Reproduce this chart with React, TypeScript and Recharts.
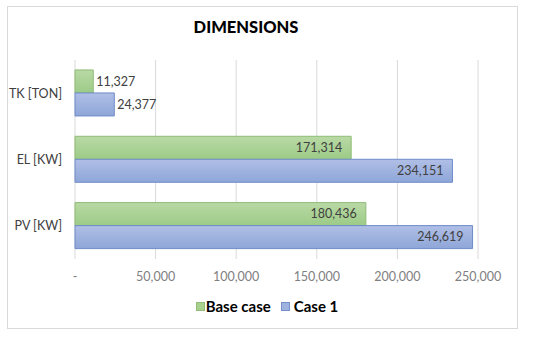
import { BarChart, Bar, XAxis, YAxis, CartesianGrid, LabelList } from 'recharts';

const categories = ['TK [TON]', 'EL  [KW]', 'PV [KW]'];
const baseCase = [11327, 171314, 180436];
const case1 = [24377, 234151, 246619];
const xTicks = [0, 50000, 100000, 150000, 200000, 250000];

const data = categories.map((name, i) => ({ name, base: baseCase[i], case1: case1[i] }));

const FONT = 'Lato, "Open Sans", sans-serif';

const fmt = (v: number) => (v === 0 ? '-' : v.toLocaleString('en-US'));

// put the value inside the bar end when it fits, otherwise just past it
const ValueLabel = (props: any) => {
  const { x, y, width, height, value } = props;
  const text = fmt(value);
  const textW = text.length * 6.3;
  const inside = width > textW + 16;
  return (
    <text
      x={inside ? x + width - 9 : x + width + 3}
      y={y + height / 2}
      dy="0.35em"
      textAnchor={inside ? 'end' : 'start'}
      fontSize={12.5}
      fontFamily={FONT}
      fill="#404040"
    >
      {text}
    </text>
  );
};

export default function App() {
  return (
    <div style={{ position: 'fixed', left: 0, top: 0, width: 550, height: 337, background: '#fff', fontFamily: FONT }}>
      <div style={{ position: 'absolute', left: 7, top: 6, width: 509, height: 321, border: '1px solid #d9d9d9' }} />
      <div style={{ position: 'absolute', left: 0, top: 17, width: 492, textAlign: 'center', fontWeight: 900, fontSize: 16.5, color: '#000' }}>
        DIMENSIONS
      </div>
      <BarChart
        width={550}
        height={337}
        data={data}
        layout="vertical"
        margin={{ top: 60, right: 72, left: 0, bottom: 58 }}
        barCategoryGap="15%"
        barGap={0}
        style={{ position: 'absolute', left: 0, top: 0 }}
      >
        <defs>
          <linearGradient id="gGreen" x1="0" y1="0" x2="0" y2="1">
            <stop offset="0%" stopColor="#b9d9a5" />
            <stop offset="100%" stopColor="#9ccb87" />
          </linearGradient>
          <linearGradient id="gBlue" x1="0" y1="0" x2="0" y2="1">
            <stop offset="0%" stopColor="#b0bfe6" />
            <stop offset="100%" stopColor="#8ea6d8" />
          </linearGradient>
        </defs>
        <CartesianGrid horizontal={false} stroke="#d9d9d9" />
        <XAxis
          type="number"
          domain={[0, 250000]}
          ticks={xTicks}
          tickFormatter={fmt}
          axisLine={false}
          tickLine={false}
          tickMargin={7}
          height={20}
          tick={{ fill: '#808080', fontSize: 12.5, fontFamily: FONT }}
        />
        <YAxis
          type="category"
          dataKey="name"
          width={75}
          axisLine={false}
          tickLine={false}
          tickMargin={7}
          tick={{ fill: '#404040', fontSize: 12.5, fontFamily: FONT }}
        />
        <Bar dataKey="base" name="Base case" fill="url(#gGreen)" stroke="#8fbc76" isAnimationActive={false}>
          <LabelList dataKey="base" content={ValueLabel} />
        </Bar>
        <Bar dataKey="case1" name="Case 1" fill="url(#gBlue)" stroke="#6f8cc8" isAnimationActive={false}>
          <LabelList dataKey="case1" content={ValueLabel} />
        </Bar>
      </BarChart>
      <div style={{ position: 'absolute', left: 0, top: 297, width: 534, display: 'flex', justifyContent: 'center', alignItems: 'center', fontWeight: 700, fontSize: 15, color: '#000' }}>
        <span style={{ width: 7, height: 7, background: '#a9d18e', border: '1px solid #8fbc76', marginRight: 1 }} />
        <span>Base case</span>
        <span style={{ width: 7, height: 7, background: '#9fb3e0', border: '1px solid #7590cb', marginLeft: 10, marginRight: 4 }} />
        <span>Case 1</span>
      </div>
    </div>
  );
}
